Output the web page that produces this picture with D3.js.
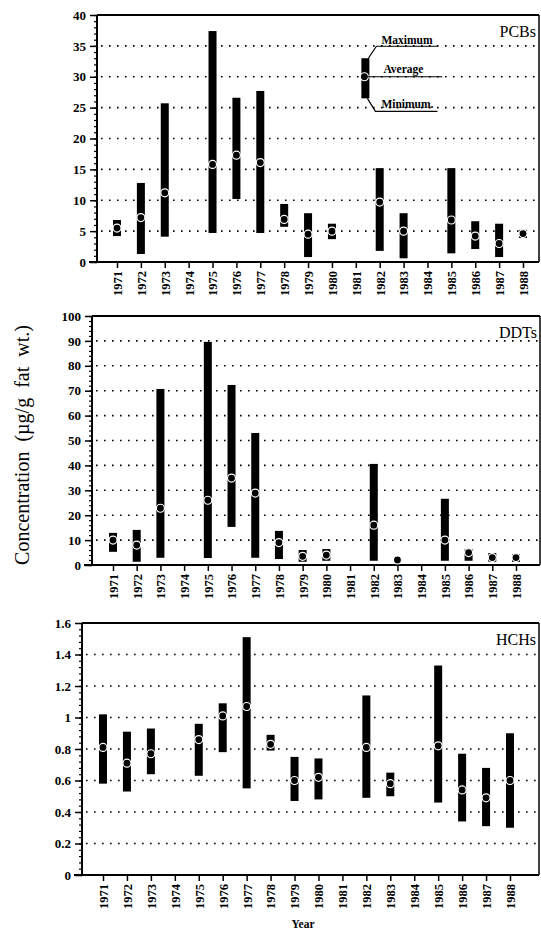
<!DOCTYPE html>
<html><head><meta charset="utf-8">
<script src="https://cdn.jsdelivr.net/npm/d3@7"></script>
<style>
body{margin:0;background:#fff;}
svg{display:block;}
text{font-family:"Liberation Serif","DejaVu Serif",serif;}
</style></head>
<body>
<svg id="c" width="541" height="933"></svg>
<script>
// ---- data ----
const years = [1971,1972,1973,1975,1976,1977,1978,1979,1980,1982,1983,1985,1986,1987,1988];
const tickYears = d3.range(1971,1989);

const pcbMin = [4.2,1.3,4.1,4.7,10.2,4.7,5.7,0.8,3.7,1.8,0.6,1.4,2.1,0.8,3.9];
const pcbAvg = [5.5,7.2,11.2,15.8,17.3,16.1,6.9,4.5,5.0,9.7,5.0,6.8,4.2,3.0,4.6];
const pcbMax = [6.8,12.8,25.7,37.4,26.6,27.7,9.4,7.9,6.2,15.2,7.9,15.2,6.6,6.2,5.2];

const ddtMin = [5.3,1.3,2.9,2.8,15.3,2.9,2.4,1.3,1.7,1.7,1.5,1.7,1.7,1.3,1.3];
const ddtAvg = [10,8,22.8,26,34.9,28.9,9,3.5,4,16,2,10,5,3,3];
const ddtMax = [12.9,14.1,70.7,89.6,72.3,53,13.7,6,6.4,40.6,2.5,26.6,6.4,4.8,4.4];

const hchMin = [0.58,0.53,0.64,0.63,0.78,0.55,0.79,0.47,0.48,0.49,0.50,0.46,0.34,0.31,0.30];
const hchAvg = [0.81,0.71,0.77,0.86,1.01,1.07,0.83,0.60,0.62,0.81,0.58,0.82,0.54,0.49,0.60];
const hchMax = [1.02,0.91,0.93,0.96,1.09,1.51,0.89,0.75,0.74,1.14,0.65,1.33,0.77,0.68,0.90];

const pcbTicks = [0,5,10,15,20,25,30,35,40];
const ddtTicks = [0,10,20,30,40,50,60,70,80,90,100];
const hchTicks = [0,0.2,0.4,0.6,0.8,1,1.2,1.4,1.6];
const hchTickLabels = ["0","0.2","0.4","0.6","0.8","1","1.2","1.4","1.6"];

const legendYear = 1981.4;
const legendMin = 26.5, legendAvg = 30, legendMax = 33;

const titles = ["PCBs","DDTs","HCHs"];
const yLabel = "Concentration  (\u00b5g/g  fat  wt.)";
const xLabel = "Year";

// ---- layout ----
const svg = d3.select("#c");
const panels = [
  {title:titles[0], mn:pcbMin, av:pcbAvg, mx:pcbMax, ticks:pcbTicks, labels:pcbTicks.map(String), dom:[0,40], minor:1,
   left:97, right:539, top:15, bottom:262, x71:117, x88:523},
  {title:titles[1], mn:ddtMin, av:ddtAvg, mx:ddtMax, ticks:ddtTicks, labels:ddtTicks.map(String), dom:[0,100], minor:2,
   left:92, right:540, top:316, bottom:565, x71:113, x88:516},
  {title:titles[2], mn:hchMin, av:hchAvg, mx:hchMax, ticks:hchTicks, labels:hchTickLabels, dom:[0,1.6], minor:0.04,
   left:82, right:539, top:623, bottom:875, x71:103, x88:510}
];

panels.forEach((p,pi)=>{
  const x = d3.scaleLinear().domain([1971,1988]).range([p.x71,p.x88]);
  const y = d3.scaleLinear().domain(p.dom).range([p.bottom,p.top]);
  p.x=x; p.y=y;
  const g = svg.append("g");

  // dotted gridlines
  g.selectAll("line.grid").data(p.ticks.filter(t=>t>p.dom[0] && t<p.dom[1])).join("line")
    .attr("x1",p.left+4).attr("x2",p.right-2)
    .attr("y1",d=>y(d)).attr("y2",d=>y(d))
    .attr("stroke","#000").attr("stroke-width",1.6).attr("stroke-dasharray","1.6,6.4");

  // frame: top and right
  g.append("line").attr("x1",p.left).attr("x2",p.right).attr("y1",p.top).attr("y2",p.top)
    .attr("stroke","#000").attr("stroke-width",1.8);
  g.append("line").attr("x1",p.right).attr("x2",p.right).attr("y1",p.top).attr("y2",p.bottom)
    .attr("stroke","#000").attr("stroke-width",1.5);

  // y axis with minor ticks
  const nMinor = Math.round((p.dom[1]-p.dom[0])/p.minor);
  const minorVals = d3.range(nMinor+1).map(i=>p.dom[0]+i*p.minor);
  g.append("g").attr("transform",`translate(${p.left},0)`)
    .call(d3.axisLeft(y).tickValues(minorVals).tickSize(3).tickFormat(""))
    .call(a=>a.select(".domain").remove())
    .call(a=>a.selectAll("line").attr("stroke-width",1.2));
  const ya = g.append("g").attr("transform",`translate(${p.left},0)`)
    .call(d3.axisLeft(y).tickValues(p.ticks).tickSize(7).tickPadding(4).tickFormat((d,i)=>p.labels[i]));
  ya.select(".domain").attr("stroke-width",2).attr("d",`M0,${p.top}V${p.bottom}`);
  ya.selectAll("line").attr("stroke-width",1.5);
  ya.selectAll("text").attr("font-family","Liberation Serif, serif").attr("font-weight","bold")
    .attr("font-size",13).attr("fill","#000");

  // x axis
  const xa = g.append("g").attr("transform",`translate(0,${p.bottom})`)
    .call(d3.axisBottom(x).tickValues(tickYears).tickSize(6).tickFormat(d3.format("d")));
  xa.select(".domain").attr("stroke-width",2).attr("d",`M${p.left-8},0H${p.right}`);
  xa.selectAll("line").attr("stroke-width",1.5);
  xa.selectAll("text").attr("font-family","Liberation Serif, serif").attr("font-weight","bold")
    .attr("font-size",12.5).attr("fill","#000")
    .attr("transform","rotate(-90)").attr("text-anchor","end")
    .attr("x",-9).attr("y",0).attr("dy","0.35em");

  // bars
  g.selectAll("rect.bar").data(years).join("rect")
    .attr("x",d=>x(d)-4).attr("width",8)
    .attr("y",(d,i)=>y(p.mx[i]))
    .attr("height",(d,i)=>Math.max(2,y(p.mn[i])-y(p.mx[i])))
    .attr("fill","#000");
  // average markers
  g.selectAll("circle.avg").data(years).join("circle")
    .attr("cx",d=>x(d)).attr("cy",(d,i)=>y(p.av[i])).attr("r",4)
    .attr("fill","#000").attr("stroke","#fff").attr("stroke-width",1.2);

  // title
  g.append("text").attr("x",p.right-3).attr("y",p.top+22).attr("text-anchor","end")
    .attr("font-size",16).attr("fill","#000").text(p.title);
});

// legend in PCB panel
{
  const p = panels[0], x = p.x, y = p.y;
  const lx = x(legendYear);
  const g = svg.append("g");
  g.append("rect").attr("x",lx-4).attr("width",8).attr("y",y(legendMax)).attr("height",y(legendMin)-y(legendMax)).attr("fill","#000");
  g.append("circle").attr("cx",lx-1).attr("cy",y(legendAvg)).attr("r",4).attr("fill","#000").attr("stroke","#fff").attr("stroke-width",1.2);
  const ln = (d)=>g.append("path").attr("d",d).attr("fill","none").attr("stroke","#000").attr("stroke-width",1.2);
  ln(`M${lx+3},${y(legendMax)}L${lx+11},${y(legendMax)-12}H${lx+72}`);
  ln(`M${lx},${y(legendAvg)}H${lx+77}`);
  ln(`M${lx+2},${y(legendMin)}L${lx+10},${y(legendMin)+13}H${lx+72}`);
  const t = (tx,ty,s)=>g.append("text").attr("x",tx).attr("y",ty).attr("font-size",11.5).attr("font-weight","bold").attr("fill","#000").text(s);
  t(lx+16,y(legendMax)-14,"Maximum");
  t(lx+18,y(legendAvg)-4,"Average");
  t(lx+16,y(legendMin)+10,"Minimum.");
}

// axis labels
svg.append("text").attr("transform","translate(29,445) rotate(-90)").attr("text-anchor","middle")
  .attr("font-size",20).attr("fill","#000").attr("xml:space","preserve").style("white-space","pre").text(yLabel);
svg.append("text").attr("x",303).attr("y",928).attr("text-anchor","middle")
  .attr("font-size",11.5).attr("font-weight","bold").attr("fill","#000").text(xLabel);
</script>
</body></html>
